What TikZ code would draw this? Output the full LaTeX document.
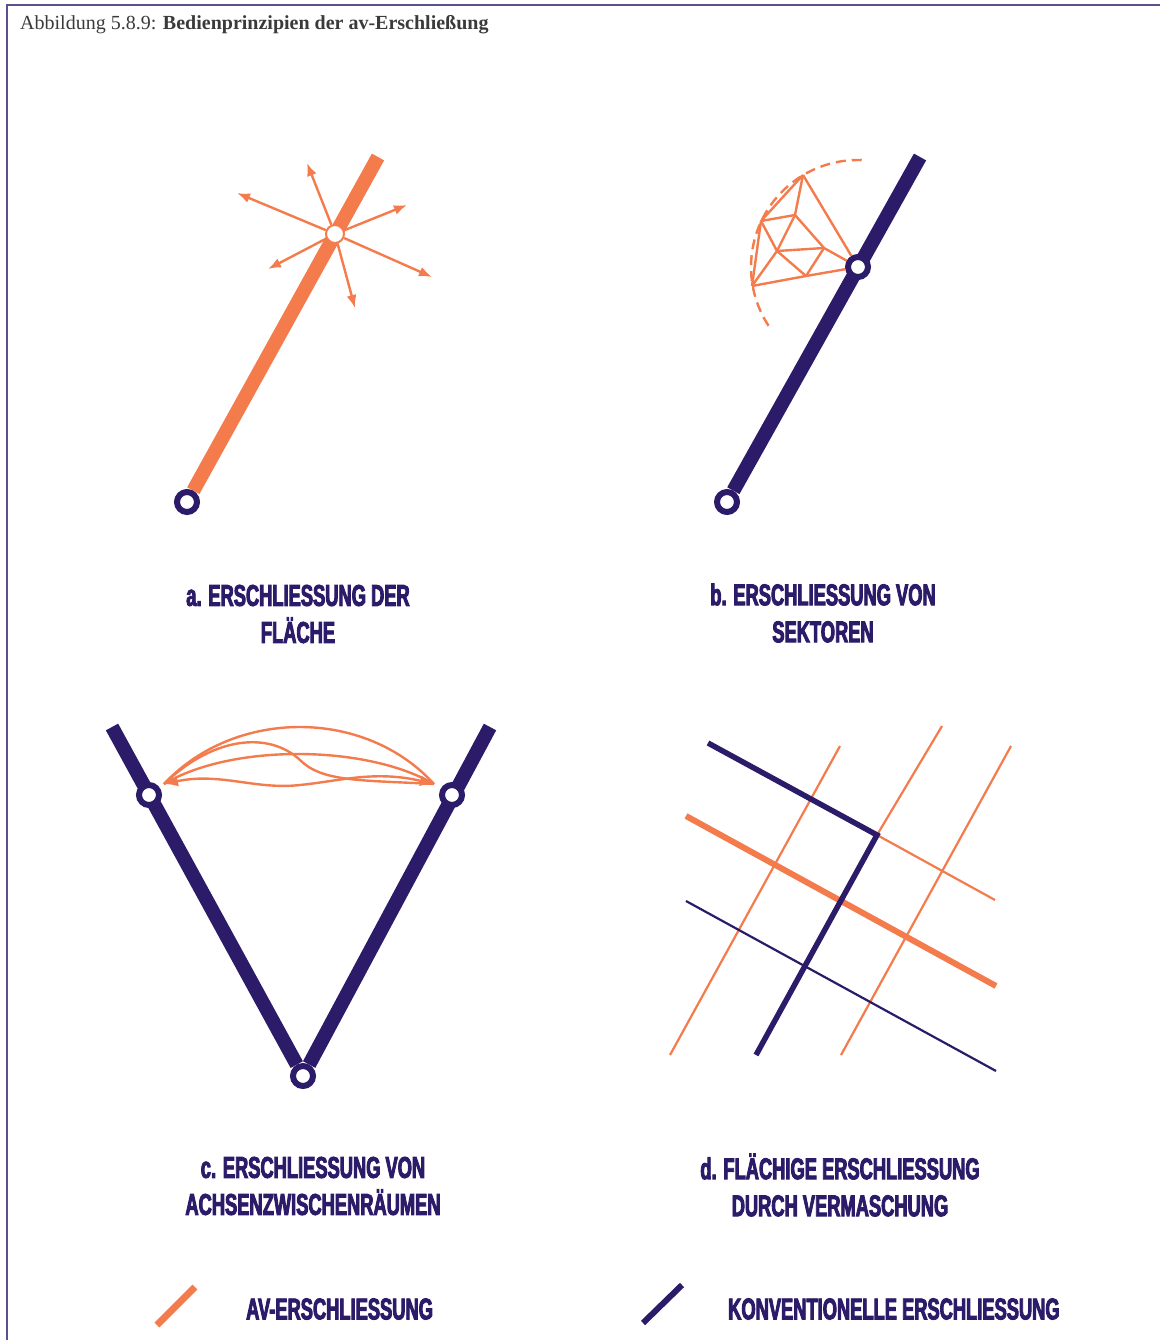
\documentclass[tikz,border=0pt]{standalone}
\usepackage{fontspec}
\setmainfont{Liberation Serif}
\newfontfamily\condfont[FakeStretch=0.61,FakeBold=3]{Liberation Sans}
\usepackage{tikz}
\usepackage{xcolor}
\usetikzlibrary{arrows.meta,backgrounds}
\definecolor{avorange}{HTML}{F47B4C}
\definecolor{navy}{HTML}{2B1B68}
\definecolor{framecol}{HTML}{5B5190}
\definecolor{capgray}{HTML}{3A3A3A}

\begin{document}
\begin{tikzpicture}[x=1pt,y=-1pt,every node/.style={inner sep=0pt},
    stop/.style={circle,draw=navy,line width=6pt,fill=white,minimum size=20pt},
    hub/.style={circle,draw=avorange,line width=2pt,fill=white,minimum size=18pt},
    avaxis/.style={draw=avorange,line width=14pt},
    convaxis/.style={draw=navy,line width=14pt},
    ray/.style={draw=avorange,line width=2.4pt,-{Latex[length=13pt,width=10pt]}},
    meshline/.style={draw=avorange,line width=2.4pt},
    panelcap/.style={font=\condfont\bfseries\fontsize{30}{37}\selectfont,text=navy,align=center}]
    \useasboundingbox (0,0) rectangle (1160,1340);
    \draw[framecol,line width=1.5pt] (7,1340)--(7,5)--(1160,5);
    \node[anchor=base west,font=\fontsize{20}{24}\selectfont,text=capgray] (title) at (20,30) {Abbildung 5.8.9: \textbf{Bedienprinzipien der av-Erschließung}};

    % a. Fläche
    \node[stop] (a0) at (187,502) {};
    \node[hub] (ah) at (335,234) {};
    \coordinate (atop) at (378,157);
    \foreach \n/\x/\y in {1/307/163,2/237/193,3/407/205,4/432/277,5/268/269,6/355/308} \coordinate (s\n) at (\x,\y);
    \begin{scope}[on background layer]
      \draw[avaxis] (a0)--(atop);
    \end{scope}
    \foreach \n in {1,...,6} \draw[ray] (ah)--(s\n);
    \node[panelcap] (capa) at (298,614) {a. ERSCHLIESSUNG DER\\FLÄCHE};

    % b. Sektoren
    \node[stop] (b0) at (727,502) {};
    \node[stop] (bn) at (858,267) {};
    \coordinate (btop) at (920,157);
    \foreach \n/\x/\y in {1/803/175,2/761/221,3/795/215,4/777/251,5/824/248,6/806/276,7/752/286} \coordinate (p\n) at (\x,\y);
    \begin{scope}[on background layer]
      \draw[convaxis] (b0)--(btop);
    \end{scope}
    \foreach \x/\y in {p1/p2,p1/p3,p1/bn,p2/p3,p2/p4,p2/p7,p3/p4,p3/p5,p4/p5,p4/p6,p4/p7,p5/p6,p5/bn,p7/p6,p6/bn} \draw[meshline] (\x)--(\y);
    \draw[avorange,line width=2.4pt,dash pattern=on 10pt off 6pt] ([shift={(272:107)}]bn.center) arc[start angle=272,end angle=144,radius=107];
    \node[panelcap] (capb) at (823,613) {b. ERSCHLIESSUNG VON\\SEKTOREN};

    % c. Achsenzwischenräume
    \node[stop] (cb) at (303,1076) {};
    \node[stop] (cl0) at (149,795) {};
    \node[stop] (cr0) at (452,795) {};
    \coordinate (cltop) at (112,727);
    \coordinate (crtop) at (490,727);
    \coordinate (cl) at (164,784);
    \coordinate (cr) at (434,784);
    \begin{scope}[on background layer]
      \draw[convaxis] (cltop)--(cb)--(crtop);
    \end{scope}
    \draw[meshline] (cl) .. controls (235,708) and (365,708) .. (cr);
    \draw[meshline] (cl) .. controls (230,744) and (365,744) .. (cr);
    \draw[meshline] (cl) .. controls (215,735) and (270,732) .. (300,760) .. controls (322,782) and (360,780) .. (cr);
    \draw[meshline,{Latex[length=14pt,width=11pt]}-{Latex[length=14pt,width=11pt]}] (cl) .. controls (220,772) and (255,790) .. (300,785) .. controls (340,781) and (375,770) .. (cr);
    \node[panelcap] (capc) at (313,1186) {c. ERSCHLIESSUNG VON\\ACHSENZWISCHENRÄUMEN};

    % d. Vermaschung
    \foreach \n/\x/\y in {n1/708/743,k/877/835,n2/756/1055,o1/995/900,t1/686/816,t2/996/986,u1/686/901,u2/996/1071,
        g1/670/1055,g2/840/746,h1/942/726,j1/1011/746,j2/841/1055} \coordinate (\n) at (\x,\y);
    \draw[avorange,line width=2.2pt] (g1)--(g2);
    \draw[avorange,line width=2.2pt] (j1)--(j2);
    \draw[avorange,line width=2.2pt] (h1)--(k)--(o1);
    \draw[navy,line width=2.2pt] (u1)--(u2);
    \draw[avorange,line width=6pt] (t1)--(t2);
    \draw[navy,line width=5.5pt] (n1)--(k)--(n2);
    \node[panelcap] (capd) at (840,1185) {d. FLÄCHIGE ERSCHLIESSUNG\\DURCH VERMASCHUNG};

    % Legende
    \coordinate (la1) at (157,1325);
    \coordinate (la2) at (195,1287);
    \coordinate (lb1) at (643,1323);
    \coordinate (lb2) at (682,1285);
    \draw[avorange,line width=7pt] (la1)--(la2);
    \draw[navy,line width=6pt] (lb1)--(lb2);
    \node[panelcap,anchor=west] (lega) at (246,1309) {AV-ERSCHLIESSUNG};
    \node[panelcap,anchor=west] (legb) at (728,1309) {KONVENTIONELLE ERSCHLIESSUNG};
  \end{tikzpicture}
\end{document}
